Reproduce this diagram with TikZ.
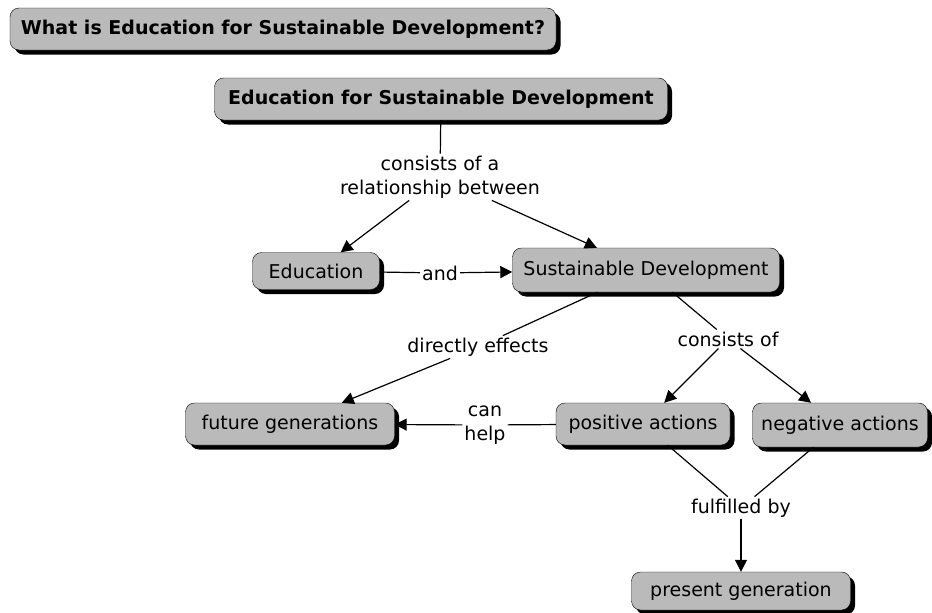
\documentclass[tikz,border=0pt]{standalone}
\usepackage{fontspec}
\setmainfont{DejaVu Sans}
\usetikzlibrary{arrows.meta,shadows}

\begin{document}
\begin{tikzpicture}%
    [x=1pt, y=-1pt,
    concept/.style={rectangle, rounded corners=9pt, draw=black, fill=black!27,
      inner sep=0pt, font=\fontsize{19}{22}\selectfont,
      drop shadow={shadow xshift=4.5pt, shadow yshift=-4.5pt, fill=black, opacity=1}},
    heading/.style={concept, font=\fontsize{19}{22}\selectfont\bfseries},
    link/.style={inner sep=2pt, align=center, font=\fontsize{19}{24}\selectfont},
    edge/.style={line width=1.2pt},
    arrow/.style={line width=1.2pt, -{Triangle[length=12pt, width=12pt]}}]

    \useasboundingbox (0,0) rectangle (932,613);

    % concepts
    \node [heading, minimum width=546pt, minimum height=42pt] (title) at (283, 29) {What is Education for Sustainable Development?};
    \node [heading, minimum width=453pt, minimum height=42pt] (esd) at (441, 99) {Education for Sustainable Development};
    \node [concept, minimum width=127pt, minimum height=37pt] (edu) at (316, 271) {Education};
    \node [concept, minimum width=267pt, minimum height=44pt] (sd) at (646, 270) {Sustainable Development};
    \node [concept, minimum width=209pt, minimum height=42pt] (future) at (290, 424) {future generations};
    \node [concept, minimum width=174pt, minimum height=42pt] (positive) at (643, 424) {positive actions};
    \node [concept, minimum width=175pt, minimum height=44pt] (negative) at (840, 425) {negative actions};
    \node [concept, minimum width=219pt, minimum height=38pt] (present) at (741, 591) {present generation};

    % linking phrases
    \node [link] (between) at (440, 177) {consists of a\\relationship between};
    \node [link] (and) at (440, 273) {and};
    \node [link] (effects) at (478, 347) {directly effects};
    \node [link] (consists) at (728, 339) {consists of};
    \node [link] (help) at (485, 425) {can\\help};
    \node [link] (fulfilled) at (741, 508) {fulfilled by};

    \draw [edge] (esd) -- (between);
    \draw [arrow] (between) -- (edu);
    \draw [arrow] (between) -- (sd);
    \draw [edge] (edu) -- (and);
    \draw [arrow] (and) -- (sd);
    \draw [edge] (sd) -- (effects);
    \draw [arrow] (effects) -- (future);
    \draw [edge] (sd) -- (consists);
    \draw [arrow] (consists) -- (positive);
    \draw [arrow] (consists) -- (negative);
    \draw [edge] (positive) -- (help);
    \draw [arrow] (help) -- (future);
    \draw [edge] (positive) -- (fulfilled);
    \draw [edge] (negative) -- (fulfilled);
    \draw [arrow] (fulfilled) -- (present);
\end{tikzpicture}
\end{document}
